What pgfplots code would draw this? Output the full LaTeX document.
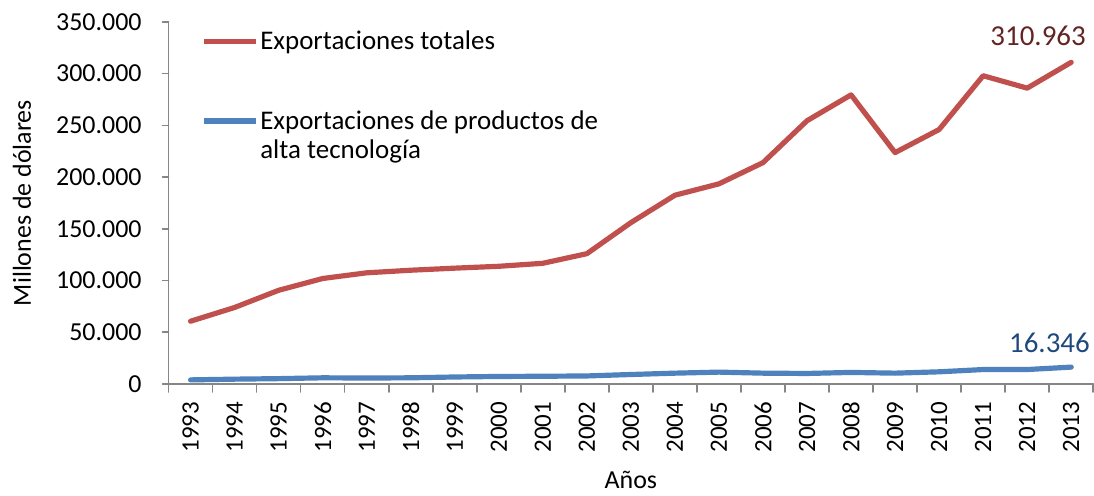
\documentclass[border=0pt]{standalone}
\usepackage{fontspec}
\setmainfont{Carlito}
\usepackage{pgfplots}
\pgfplotsset{compat=1.18}
\definecolor{rojo}{HTML}{C0504D}
\definecolor{azul}{HTML}{4F81BD}
\definecolor{gris}{HTML}{868686}
\definecolor{rojoosc}{HTML}{632523}
\definecolor{azulosc}{HTML}{1F497D}

\begin{document}
\begin{tikzpicture}
\begin{axis}[
    scale only axis, width=463.5pt, height=181.5pt,
    axis lines*=left,
    axis line style={gris, line width=0.8pt},
    xmin=-0.5, xmax=20.5, ymin=0, ymax=350000,
    xtick={0,...,20},
    xticklabels={1993,1994,1995,1996,1997,1998,1999,2000,2001,2002,2003,2004,2005,2006,2007,2008,2009,2010,2011,2012,2013},
    x tick label style={rotate=90, anchor=east, xshift=-2.5pt, font=\fontsize{12.5}{15}\selectfont},
    major x tick style={draw=none},
    minor xtick={-0.5,0.5,...,20.5},
    ytick={0,50000,...,350000},
    scaled y ticks=false,
    yticklabel style={xshift=-7pt, font=\fontsize{13}{15}\selectfont,
      /pgf/number format/.cd, fixed, precision=0, 1000 sep={.}, assume math mode=true},
    tick align=outside, major tick length=3pt, minor tick length=4pt,
    every tick/.style={gris, line width=0.8pt},
    label style={font=\fontsize{13}{15}\selectfont},
    ylabel={Millones de dólares},
    ylabel style={inner ysep=6.5pt, yshift=2.5pt},
    xlabel={Años},
    xlabel style={inner ysep=3pt, yshift=-3pt},
    legend cell align=left,
    legend style={at={(rel axis cs:0,1)}, anchor=north west, xshift=13.5pt, yshift=-0.1pt,
      draw=none, fill=none, row sep=24.7pt, nodes={inner xsep=0.7pt},
      font=\fontsize{13.5}{14.5}\selectfont},
    legend image code/.code={\draw[#1] (0pt,0pt) -- (26pt,0pt);},
    line join=round, line cap=round,
    clip=false,
]
\addplot[rojo, line width=2.6pt] coordinates {
(0,60700) (1,74000) (2,90600) (3,102000) (4,107500) (5,110000) (6,112000)
(7,113800) (8,116700) (9,126000) (10,156000) (11,182500) (12,193500)
(13,214000) (14,254500) (15,279500) (16,223700) (17,246000) (18,298000)
(19,286000) (20,310963)};
\addlegendentry{Exportaciones totales}
\addplot[azul, line width=2.6pt] coordinates {
(0,4000) (1,4700) (2,5200) (3,6000) (4,5800) (5,6000) (6,6800)
(7,7300) (8,7500) (9,7800) (10,9200) (11,10500) (12,11500)
(13,10500) (14,10200) (15,11200) (16,10500) (17,11800) (18,14000)
(19,14000) (20,16346)};
\addlegendentry{\raisebox{0pt}[\height][0pt]{\begin{tabular}[t]{@{}l@{}}Exportaciones de productos de\\alta tecnología\end{tabular}}}
\node[anchor=south east, text=rojoosc, font=\fontsize{14.5}{17}\selectfont, inner sep=0pt, xshift=7.5pt, yshift=8pt] at (axis cs:20,310963) {310.963};
\node[anchor=base east, text=azulosc, font=\fontsize{14.5}{17}\selectfont, inner sep=0pt, xshift=9.5pt, yshift=7.5pt] at (axis cs:20,16346) {16.346};
\path (rel axis cs:0,1) ++(0pt,11pt);
\end{axis}
\end{tikzpicture}
\end{document}
